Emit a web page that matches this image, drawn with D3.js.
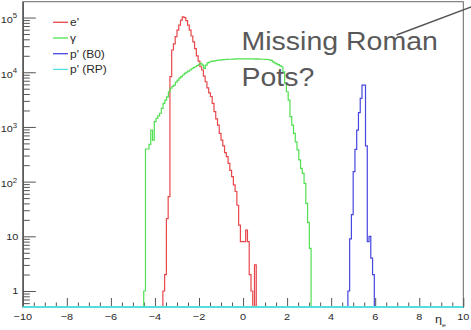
<!DOCTYPE html>
<html><head><meta charset="utf-8">
<script src="https://cdn.jsdelivr.net/npm/d3@7"></script>
<style>body{margin:0;background:#fff}svg{display:block}text{font-family:"Liberation Sans",Arial,sans-serif}</style>
</head><body><svg id="c" width="471" height="330"></svg>
<script>
// ---------- data ----------
const seriesNames = ["e'", "γ", "p' (B0)", "p' (RP)"];
const binWidth = 0.08;
const eLo = -3.64;
const eValues = [1,2,21,53,8300,25500,33000,45000,59000,73000,90000,103000,100000,88000,73000,59000,46000,36000,27000,20000,16000,12600,11000,8500,6700,5200,4200,3600,2700,1900,1400,1080,760,575,450,340,286,215,160,123,87,66,37,16,8,8,8,13,8,2,1,0,3];
const gammaLo = -4.51;
const gammaValues = [1,395,395,480,880,575,1250,1440,1600,1780,
  2190,2700,3100,3560,4400,5100,5500,5800,6600,7200,
  7800,8300,8900,9550,10000,10500,11000,11600,12100,12600,
  13300,14000,14500,13500,11800,13500,14900,15400,15800,16000,
  16200,16400,16600,16700,16900,17000,17100,17200,17300,17300,
  17400,17400,17500,17500,17600,17600,17600,17600,17500,17600,
  17500,17500,17500,17400,17500,17400,17400,17300,17300,17200,
  17100,16900,16500,15500,14800,14200,13800,13200,12600,10200,
  6300,4400,3100,1550,1080,760,535,380,250,175,
  141,93,40,18,6];
const b0Lo = 4.76;
const b0Values = [1,9,25,152,390,875,1820,3340,5800,5800,450,8,10,4,2];
const rpValues = []; // empty histogram -> drawn at the axis minimum
const xTickValues = [-10,-8,-6,-4,-2,0,2,4,6,8,10];
const xTickLabels = ["\u221210","\u22128","\u22126","\u22124","\u22122","0","2","4","6","8","10"];
const yTickValues = [1,10,100,1000,10000,100000];
const yTickBases = ["1","10","10","10","10","10"];
const yTickExps = ["","","2","3","4","5"];
const colors = ["#e8474a","#52e052","#4646e0","#55dede"];

// ---------- setup ----------
const svg = d3.select("#c");
svg.append("rect").attr("width",471).attr("height",330).attr("fill","#fff");
const x = d3.scaleLinear().domain([-10,10]).range([22.8,463.3]);
const y = d3.scaleLog().domain([0.51,1.95e5]).range([307,1.7]);
const y0 = y.range()[0];
const SX = 1.15; // horizontal stretch of the reference's text

// frame
svg.append("rect").attr("x",x(-10)).attr("y",y.range()[1])
  .attr("width",x(10)-x(-10)).attr("height",y0-y.range()[1])
  .attr("fill","none").attr("stroke","#666").attr("stroke-width",1);

// axes (ticks point inward)
const axisCol = "#555";
const xMinor = d3.range(-10,10.001,0.5).filter(v=>!xTickValues.includes(v));
const gx = svg.append("g").attr("transform",`translate(0,${y0})`);
gx.call(d3.axisBottom(x).tickValues(xTickValues).tickSizeInner(-9).tickSizeOuter(0).tickFormat(""));
const gxm = svg.append("g").attr("transform",`translate(0,${y0})`);
gxm.call(d3.axisBottom(x).tickValues(xMinor).tickSizeInner(-4.5).tickSizeOuter(0).tickFormat(""));
const yMinor = [];
[0.1,1,10,100,1000,10000,100000].forEach(d=>{for(let m=2;m<=9;m++){const v=m*d; if(v>y.domain()[0]&&v<y.domain()[1]) yMinor.push(v);}});
const gy = svg.append("g").attr("transform",`translate(${x(-10)},0)`);
gy.call(d3.axisLeft(y).tickValues(yTickValues).tickSizeInner(-13).tickSizeOuter(0).tickFormat(""));
const gym = svg.append("g").attr("transform",`translate(${x(-10)},0)`);
gym.call(d3.axisLeft(y).tickValues(yMinor).tickSizeInner(-7).tickSizeOuter(0).tickFormat(""));
svg.selectAll(".domain").attr("stroke",axisCol);
svg.selectAll(".tick line").attr("stroke",axisCol);

// tick labels
const txtCol = "#2a2a2a";
xTickValues.forEach((v,i)=>{
  svg.append("text").attr("transform",`translate(${x(v)},320) scale(${SX},1)`)
    .attr("text-anchor","middle").attr("font-size",9.5).attr("fill",txtCol).text(xTickLabels[i]);
});
yTickValues.forEach((v,i)=>{
  const hasExp = yTickExps[i] !== "";
  const t = svg.append("text").attr("transform",`translate(${hasExp?17.2:18.3},${y(v)+(hasExp?5.3:3.4)}) scale(${SX},1)`)
    .attr("text-anchor","end").attr("font-size",9.5).attr("fill",txtCol);
  t.append("tspan").text(yTickBases[i]);
  if (hasExp) t.append("tspan").attr("dy",-4.4).attr("font-size",6.8).text(yTickExps[i]);
});
// axis title
const xt = svg.append("text").attr("transform",`translate(435,323) scale(${SX},1)`)
  .attr("font-size",11).attr("fill",txtCol);
xt.append("tspan").text("η");
xt.append("tspan").attr("dy",4).attr("font-size",6).text("e");

// histograms
function histPath(lo, vals){
  const pts = [[x(lo), y0]];
  vals.forEach((v,i)=>{
    const yy = v>0 ? y(v) : y0;
    pts.push([x(lo+i*binWidth), yy],[x(lo+(i+1)*binWidth), yy]);
  });
  pts.push([x(lo+vals.length*binWidth), y0]);
  return d3.line()(pts);
}
const hists = [[eLo,eValues],[gammaLo,gammaValues],[b0Lo,b0Values]];
hists.forEach((h,i)=>{
  svg.append("path").attr("d",histPath(h[0],h[1])).attr("fill","none")
    .attr("stroke",colors[i]).attr("stroke-width",1.2);
});
// RP histogram: all bins empty -> line at minimum over full range
svg.append("path").attr("d", d3.line()([[x(-10), y0],[x(10), y0]]))
  .attr("fill","none").attr("stroke",colors[3]).attr("stroke-width",2);

// legend
seriesNames.forEach((n,i)=>{
  const ly = 22.3 + i*15.7;
  svg.append("line").attr("x1",53).attr("x2",68).attr("y1",ly).attr("y2",ly)
    .attr("stroke",colors[i]).attr("stroke-width",1.3);
  svg.append("text").attr("transform",`translate(70,${ly+4}) scale(${SX},1)`)
    .attr("font-size",10.4).attr("fill",txtCol).text(n);
});

// annotation
const ann = svg.append("g").attr("fill","#595959");
ann.append("text").attr("transform",`translate(241.5,49.5) scale(1.14,1)`).attr("font-size",25).text("Missing Roman");
ann.append("text").attr("transform",`translate(241.5,86) scale(1.14,1)`).attr("font-size",25).text("Pots?");
svg.append("line").attr("x1",396.5).attr("y1",35).attr("x2",472).attr("y2",6.5)
  .attr("stroke","#555").attr("stroke-width",1.4);
</script></body></html>
